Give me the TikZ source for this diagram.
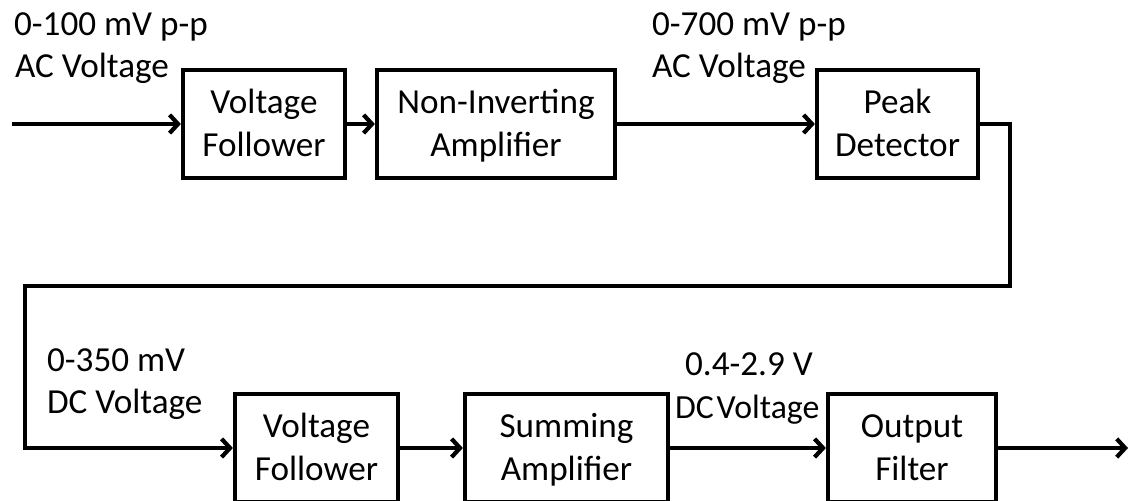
\documentclass[tikz,border=0pt]{standalone}
\usepackage{fontspec}
\setmainfont{Carlito}
\usepackage{tikz}
\usetikzlibrary{arrows.meta}
\newcommand{\bstrut}{\rule[-6.6pt]{0pt}{28.6pt}}

\begin{document}
\begin{tikzpicture}[x=0.025cm,y=-0.025cm,line width=3pt,
  >={Straight Barb[length=6pt,width=13pt]},
  block/.style={draw,align=center,inner sep=0pt,minimum height=108*0.025cm,
    font=\fontsize{25}{31}\selectfont},
  lbl/.style={anchor=base west,inner sep=0pt,font=\fontsize{25}{31}\selectfont}]
\useasboundingbox (0,0) rectangle (1130,500);
% top row
\node[block,minimum width=162*0.025cm] (vf1) at (264,124) {\bstrut Voltage\\\bstrut Follower};
\node[block,minimum width=238*0.025cm] (ni) at (496,124) {\bstrut Non-Inverting\\\bstrut Amplifier};
\node[block,minimum width=161*0.025cm] (pd) at (897.5,124) {\bstrut Peak\\\bstrut Detector};
% bottom row
\node[block,minimum width=163*0.025cm] (vf2) at (316.5,448) {\bstrut Voltage\\\bstrut Follower};
\node[block,minimum width=203*0.025cm] (sa) at (566.5,448) {\bstrut Summing\\\bstrut Amplifier};
\node[block,minimum width=168*0.025cm] (of) at (912,448) {\bstrut Output\\\bstrut Filter};
\coordinate (in) at (12,124);
\coordinate (out) at (1128,448);
\coordinate (turn) at (25,286);
% signal labels
\node[lbl] (l1a) at (12,35) {0-100 mV p-p};
\node[lbl] (l1b) at (13,77) {AC Voltage};
\node[lbl] (l2a) at (650,35) {0-700 mV p-p};
\node[lbl] (l2b) at (650,77) {AC Voltage};
\node[lbl] (l3a) at (45,371) {0-350 mV};
\node[lbl] (l3b) at (45,413) {DC Voltage};
\node[lbl] (l4a) at (683,375) {0.4-2.9 V};
\node[lbl,font=\fontsize{24}{31}\selectfont] (l4b) at (673,418) {DC\hspace{2pt}Voltage};
% connections
\draw[->] (in) -- (vf1.west);
\draw[->] (vf1.east) -- (ni.west);
\draw[->] (ni.east) -- (pd.west);
\draw[->] (pd.east) -- ++(30,0) |- (turn) |- (vf2.west);
\draw[->] (vf2.east) -- (sa.west);
\draw[->] (sa.east) -- (of.west);
\draw[->] (of.east) -- (out);
\end{tikzpicture}
\end{document}
